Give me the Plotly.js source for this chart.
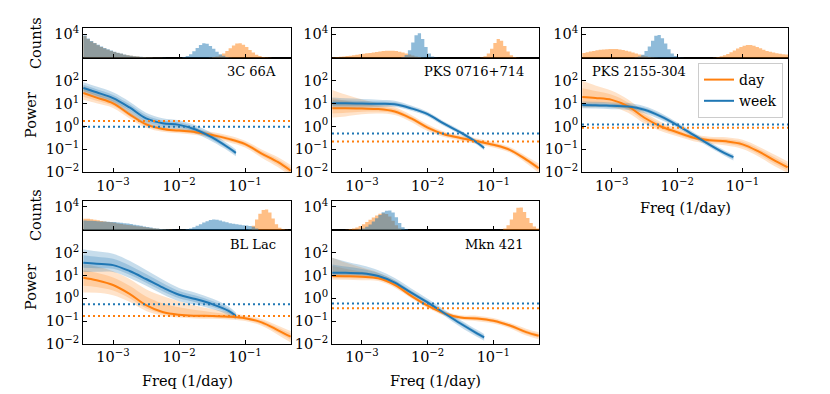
<!DOCTYPE html>
<html>
<head>
<meta charset="utf-8">
<script src="https://cdn.plot.ly/plotly-3.0.1.min.js"></script>
<style>
  body { margin: 0; background: #fff; }
  #chart { width: 830px; height: 394px; }
</style>
</head>
<body>
<div id="chart"></div>
<script>
// ---- data ----
var sources = ["3C 66A", "PKS 0716+714", "PKS 2155-304", "BL Lac", "Mkn 421"];

// frequency grids, log10(1/day)
var dayLogF = [-3.45, -3.25, -3.0, -2.75, -2.5, -2.25, -2.0, -1.75, -1.5, -1.25, -1.0, -0.75, -0.5, -0.31];
var weekLogF = [-3.45, -3.25, -3.0, -2.75, -2.5, -2.25, -2.0, -1.75, -1.5, -1.25, -1.14];

// log10 power, median curves
var dayLogPower = [
  [1.46, 1.26, 1.01, 0.53, 0.09, -0.11, -0.18, -0.25, -0.37, -0.54, -0.77, -1.18, -1.56, -1.93],
  [0.79, 0.79, 0.78, 0.76, 0.65, 0.35, -0.05, -0.34, -0.5, -0.64, -0.8, -1.02, -1.45, -1.82],
  [1.28, 1.24, 1.16, 0.88, 0.38, 0.0, -0.25, -0.49, -0.6, -0.65, -0.78, -1.1, -1.5, -1.78],
  [0.91, 0.8, 0.59, 0.2, -0.3, -0.6, -0.72, -0.76, -0.77, -0.8, -0.87, -1.05, -1.4, -1.68],
  [0.98, 0.97, 0.95, 0.88, 0.59, 0.11, -0.32, -0.65, -0.84, -0.88, -0.98, -1.19, -1.48, -1.64]
];
var weekLogPower = [
  [1.68, 1.49, 1.24, 0.83, 0.35, 0.14, 0.07, -0.13, -0.48, -0.93, -1.15],
  [1.01, 1.01, 1.0, 0.99, 0.97, 0.79, 0.54, 0.12, -0.26, -0.7, -0.94],
  [0.94, 0.93, 0.9, 0.87, 0.73, 0.44, 0.06, -0.37, -0.8, -1.2, -1.34],
  [1.56, 1.52, 1.46, 1.2, 0.85, 0.48, 0.16, -0.03, -0.25, -0.55, -0.77],
  [1.13, 1.12, 1.1, 0.98, 0.69, 0.25, -0.17, -0.64, -1.1, -1.53, -1.71]
];

// spread of the shaded bands (dex above / below the curve)
var dayUp = [
  [0.3, 0.25, 0.2, 0.18, 0.15, 0.12, 0.12, 0.12, 0.13, 0.15, 0.15, 0.18, 0.22, 0.25],
  [0.8, 0.6, 0.4, 0.25, 0.2, 0.15, 0.15, 0.12, 0.12, 0.12, 0.12, 0.12, 0.15, 0.2],
  [0.7, 0.55, 0.4, 0.3, 0.25, 0.2, 0.18, 0.15, 0.15, 0.18, 0.2, 0.22, 0.25, 0.25],
  [0.6, 0.6, 0.6, 0.65, 0.7, 0.7, 0.6, 0.45, 0.3, 0.2, 0.12, 0.15, 0.2, 0.25],
  [0.8, 0.6, 0.4, 0.25, 0.2, 0.15, 0.12, 0.1, 0.1, 0.12, 0.12, 0.12, 0.15, 0.15]
];
var dayLo = [
  [0.3, 0.25, 0.2, 0.18, 0.15, 0.12, 0.12, 0.12, 0.13, 0.15, 0.15, 0.18, 0.22, 0.25],
  [0.4, 0.35, 0.25, 0.2, 0.15, 0.15, 0.15, 0.12, 0.12, 0.12, 0.12, 0.12, 0.15, 0.2],
  [0.45, 0.4, 0.32, 0.28, 0.25, 0.2, 0.18, 0.15, 0.15, 0.18, 0.2, 0.22, 0.25, 0.25],
  [0.65, 0.55, 0.45, 0.35, 0.25, 0.15, 0.12, 0.12, 0.12, 0.12, 0.12, 0.15, 0.2, 0.25],
  [0.15, 0.15, 0.15, 0.12, 0.12, 0.1, 0.1, 0.1, 0.1, 0.12, 0.12, 0.12, 0.15, 0.15]
];
var weekUp = [
  [0.25, 0.25, 0.25, 0.25, 0.25, 0.22, 0.2, 0.18, 0.18, 0.15, 0.15],
  [0.25, 0.22, 0.2, 0.18, 0.15, 0.12, 0.1, 0.1, 0.1, 0.1, 0.1],
  [0.15, 0.15, 0.15, 0.15, 0.15, 0.15, 0.12, 0.12, 0.12, 0.12, 0.12],
  [0.6, 0.55, 0.5, 0.45, 0.4, 0.35, 0.3, 0.28, 0.25, 0.2, 0.15],
  [0.65, 0.5, 0.35, 0.25, 0.2, 0.18, 0.15, 0.15, 0.15, 0.15, 0.15]
];
var weekLo = [
  [0.25, 0.25, 0.25, 0.25, 0.25, 0.22, 0.2, 0.18, 0.18, 0.15, 0.15],
  [0.2, 0.2, 0.18, 0.15, 0.12, 0.1, 0.1, 0.1, 0.1, 0.1, 0.1],
  [0.15, 0.15, 0.15, 0.15, 0.15, 0.15, 0.12, 0.12, 0.12, 0.12, 0.15],
  [0.4, 0.35, 0.3, 0.3, 0.3, 0.3, 0.28, 0.25, 0.22, 0.18, 0.15],
  [0.15, 0.15, 0.15, 0.12, 0.12, 0.12, 0.12, 0.12, 0.15, 0.15, 0.15]
];

// noise levels (dotted lines)
var dayNoise = [1.72, 0.22, 0.87, 0.17, 0.37];
var weekNoise = [0.97, 0.49, 1.23, 0.55, 0.59];

// histograms: bins 0.05 dex wide, segments of [left edge log10 f, counts]
var histBinWidth = 0.05;
var dayHist = [
  [[-3.45, [9200, 7900, 6900, 6100, 5300, 4600, 3950, 3400, 2900, 2450, 2050, 1650, 1300, 1000, 780, 600, 460, 350, 260, 190, 140, 100, 70, 50, 30, 20, 10, 5]],
   [-1.55, [100, 250, 500, 1000, 1800, 2800, 4000, 5200, 6000, 6100, 5500, 4500, 3300, 2200, 1300, 700, 350, 150, 60, 20]]],
  [[-3.45, [200, 300, 420, 560, 720, 880, 1050, 1250, 1450, 1650, 1850, 2050, 2250, 2450, 2650, 2800, 2950, 3000, 2950, 2800, 2550, 2200, 1800, 1350, 900, 500, 250, 100, 30]],
   [-1.2, [150, 600, 1800, 3800, 6200, 7900, 7200, 5000, 2600, 1000, 300, 80]]],
  [[-3.45, [2000, 2300, 2600, 2900, 3150, 3350, 3500, 3600, 3700, 3700, 3650, 3500, 3300, 3000, 2650, 2250, 1800, 1350, 950, 600, 350, 180, 80, 30]],
   [-1.45, [100, 300, 600, 1000, 1600, 2300, 3100, 3900, 4600, 5100, 5400, 5400, 5100, 4600, 4000, 3400, 2900, 2500, 2200, 1900, 1700, 1500, 1400]]],
  [[-3.45, [4900, 4800, 4600, 4400, 4150, 3900, 3700, 3500, 3300, 3100, 2850, 2600, 2400, 2200, 2000, 1800, 1650, 1500, 1300, 1100, 900, 700, 500, 350, 230, 130, 60, 20]],
   [-0.95, [200, 1800, 4500, 7000, 8600, 8800, 7500, 5000, 2500, 1000, 300, 80]]],
  [[-3.3, [50, 150, 350, 650, 1100, 1700, 2500, 3400, 4400, 5400, 6300, 7000, 7250, 6900, 5800, 4000, 2000, 700, 150, 30]],
   [-0.9, [100, 600, 2000, 4500, 7500, 9600, 9700, 7800, 5200, 3000, 1500, 700]]]
];
var weekHist = [
  [[-3.45, [9400, 8200, 7100, 6300, 5500, 4800, 4100, 3550, 3050, 2550, 2150, 1750, 1380, 1080, 820, 640, 490, 380, 290, 215, 165, 125, 90, 60, 40, 25, 15, 10, 5]],
   [-1.95, [300, 700, 1500, 2700, 4100, 5400, 6100, 5900, 5000, 3800, 2500, 1500, 800, 350, 120, 30]]],
  [[-2.4, [300, 1200, 3200, 6500, 9500, 10400, 8000, 4500, 1800, 500, 100]]],
  [[-2.65, [150, 500, 1300, 2800, 4800, 7200, 9300, 9700, 8300, 6000, 3600, 1800, 700, 200, 50]]],
  [[-3.45, [4100, 4000, 3950, 3900, 3800, 3700, 3650, 3600, 3500, 3400, 3250, 3100, 2950, 2750, 2550, 2300, 2050, 1800, 1550, 1300, 1050, 800, 600, 420, 280, 170, 100, 60, 40, 60, 150, 350, 700, 1200, 1800, 2500, 3200, 3800, 4300, 4500, 4400, 4100, 3700, 3300, 2950, 2700, 2500, 2300, 2100, 1900, 1700, 1400, 600]]],
  [[-3.1, [100, 300, 700, 1400, 2400, 3700, 5100, 6500, 7600, 8300, 8400, 7500, 5500, 3000, 1200, 300, 50]]]
];

// ---- styling / geometry ----
var W = 830, H = 394;
var ORANGE = "#ff7f0e", BLUE = "#1f77b4";
var FONT = "DejaVu Serif";
var FS = 14.5;      // tick labels and axis titles
var FS_NAME = 13;   // source names
var FS_LEG = 14;
var logFRange = [-3.455, -0.305];

var boxLeft = [83, 332, 582, 83, 332];
var boxRight = [291, 539, 788, 291, 539];
var panelRow = [0, 0, 0, 1, 1];
var histTop = [28.3, 201];
var histBottom = [57.7, 230];
var mainBottom = [172.3, 344];

function pow10(v) { return Math.pow(10, v); }
function fx(px) { return px / W; }
function fy(py) { return 1 - py / H; }
function rgba(hex, a) {
  var r = parseInt(hex.slice(1, 3), 16), g = parseInt(hex.slice(3, 5), 16), b = parseInt(hex.slice(5, 7), 16);
  return "rgba(" + r + "," + g + "," + b + "," + a + ")";
}

var data = [];
var layout = {
  width: W, height: H,
  margin: { l: 0, r: 0, t: 0, b: 0 },
  paper_bgcolor: "white", plot_bgcolor: "white",
  font: { family: FONT, size: FS, color: "black" },
  showlegend: true,
  legend: {
    x: fx(783), xanchor: "right", y: fy(63), yanchor: "top",
    traceorder: "normal",
    bgcolor: "rgba(255,255,255,0.8)", bordercolor: "#cccccc", borderwidth: 1,
    font: { family: FONT, size: FS_LEG, color: "black" }
  },
  annotations: []
};

function axisBase() {
  return {
    showline: true, linecolor: "black", linewidth: 1, mirror: true,
    showgrid: false, zeroline: false,
    ticks: "inside", ticklen: 4, tickwidth: 1, tickcolor: "black",
    tickfont: { family: FONT, size: FS, color: "black" }
  };
}

function addBand(logF, logP, up, lo, scale, color, alpha, xa, ya) {
  var x = logF.map(pow10);
  data.push({
    x: x, y: logP.map(function (v, i) { return pow10(v - lo[i] * scale); }),
    xaxis: xa, yaxis: ya, mode: "lines", line: { width: 0, shape: "spline" },
    showlegend: false, hoverinfo: "skip"
  });
  data.push({
    x: x, y: logP.map(function (v, i) { return pow10(v + up[i] * scale); }),
    xaxis: xa, yaxis: ya, mode: "lines", line: { width: 0, shape: "spline" },
    fill: "tonexty", fillcolor: rgba(color, alpha),
    showlegend: false, hoverinfo: "skip"
  });
}

function addHist(segments, color, xa, ya) {
  segments.forEach(function (seg) {
    var start = seg[0], counts = seg[1];
    var xs = [], ys = [];
    counts.forEach(function (c, i) {
      xs.push(pow10(start + i * histBinWidth));
      ys.push(c);
    });
    xs.push(pow10(start + counts.length * histBinWidth));
    ys.push(0);
    data.push({
      x: xs, y: ys, xaxis: xa, yaxis: ya, mode: "lines",
      line: { width: 0, shape: "hv" }, fill: "tozeroy", fillcolor: rgba(color, 0.5),
      showlegend: false, hoverinfo: "skip"
    });
  });
}

var xTickVals = [1e-3, 1e-2, 1e-1];
var xTickText = ["10<sup>\u22123</sup>", "10<sup>\u22122</sup>", "10<sup>\u22121</sup>"];
var yTickVals = [1e-2, 1e-1, 1, 10, 100];
var yTickText = ["10<sup>\u22122</sup>", "10<sup>\u22121</sup>", "10<sup>0</sup>", "10<sup>1</sup>", "10<sup>2</sup>"];

sources.forEach(function (name, k) {
  var mi = 2 * k + 1, hi = 2 * k + 2;
  var mx = mi === 1 ? "x" : "x" + mi, my = mi === 1 ? "y" : "y" + mi;
  var hx = "x" + hi, hy = "y" + hi;
  var row = panelRow[k];
  var xDom = [fx(boxLeft[k]), fx(boxRight[k])];

  // histograms
  addHist(dayHist[k], ORANGE, hx, hy);
  addHist(weekHist[k], BLUE, hx, hy);

  // shaded bands
  addBand(dayLogF, dayLogPower[k], dayUp[k], dayLo[k], 1, ORANGE, 0.22, mx, my);
  addBand(dayLogF, dayLogPower[k], dayUp[k], dayLo[k], 0.55, ORANGE, 0.22, mx, my);
  addBand(weekLogF, weekLogPower[k], weekUp[k], weekLo[k], 1, BLUE, 0.25, mx, my);
  addBand(weekLogF, weekLogPower[k], weekUp[k], weekLo[k], 0.55, BLUE, 0.25, mx, my);

  // median curves
  data.push({
    x: dayLogF.map(pow10), y: dayLogPower[k].map(pow10), xaxis: mx, yaxis: my,
    mode: "lines", line: { color: ORANGE, width: 2, shape: "spline" },
    name: "day", showlegend: k === 2, hoverinfo: "skip"
  });
  data.push({
    x: weekLogF.map(pow10), y: weekLogPower[k].map(pow10), xaxis: mx, yaxis: my,
    mode: "lines", line: { color: BLUE, width: 2, shape: "spline" },
    name: "week", showlegend: k === 2, hoverinfo: "skip"
  });

  // noise levels
  [[dayNoise[k], ORANGE], [weekNoise[k], BLUE]].forEach(function (p) {
    data.push({
      x: logFRange.map(pow10), y: [p[0], p[0]], xaxis: mx, yaxis: my,
      mode: "lines", line: { color: p[1], width: 2, dash: "2px,3px" },
      showlegend: false, hoverinfo: "skip"
    });
  });

  // axes
  var ax = axisBase();
  ax.domain = xDom; ax.anchor = my; ax.type = "log"; ax.range = logFRange;
  ax.tickmode = "array"; ax.tickvals = xTickVals; ax.ticktext = xTickText;
  layout[mi === 1 ? "xaxis" : "xaxis" + mi] = ax;

  var ay = axisBase();
  ay.domain = [fy(mainBottom[row]), fy(histBottom[row])]; ay.anchor = mx;
  ay.type = "log"; ay.range = [-2, 3];
  ay.tickmode = "array"; ay.tickvals = yTickVals; ay.ticktext = yTickText;
  layout[mi === 1 ? "yaxis" : "yaxis" + mi] = ay;

  var hxa = axisBase();
  hxa.domain = xDom; hxa.anchor = hy; hxa.type = "log"; hxa.range = logFRange;
  hxa.tickmode = "array"; hxa.tickvals = xTickVals; hxa.showticklabels = false;
  layout["xaxis" + hi] = hxa;

  var hya = axisBase();
  hya.domain = [fy(histBottom[row]), fy(histTop[row])]; hya.anchor = hx;
  hya.range = [0, 12500];
  hya.tickmode = "array"; hya.tickvals = [10000]; hya.ticktext = ["10<sup>4</sup>"];
  layout["yaxis" + hi] = hya;

  // source label
  var leftLabel = k === 2;
  layout.annotations.push({
    text: name, xref: "paper", yref: "paper", showarrow: false,
    x: leftLabel ? fx(boxLeft[k] + 8) : fx(boxRight[k] - 13),
    xanchor: leftLabel ? "left" : "right",
    y: fy(histBottom[row] + 14), yanchor: "middle",
    font: { family: FONT, size: FS_NAME, color: "black" }
  });
});

// axis titles
function label(text, px, py, angle) {
  layout.annotations.push({
    text: text, xref: "paper", yref: "paper", showarrow: false,
    x: fx(px), y: fy(py), xanchor: "center", yanchor: "middle", textangle: angle || 0,
    font: { family: FONT, size: FS, color: "black" }
  });
}
label("Counts", 36, 43, -90);
label("Counts", 36, 215, -90);
label("Power", 31, 115, -90);
label("Power", 31, 287, -90);
label("Freq (1/day)", 685, 208);
label("Freq (1/day)", 187, 381);
label("Freq (1/day)", 435, 381);

Plotly.newPlot("chart", data, layout, { staticPlot: true });
</script>
</body>
</html>
